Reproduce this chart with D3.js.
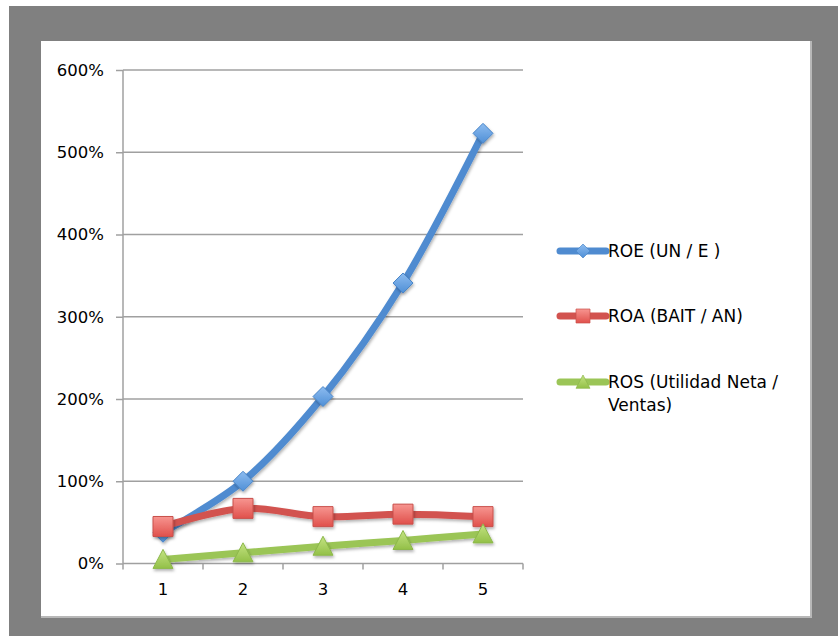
<!DOCTYPE html>
<html><head><meta charset="utf-8">
<script src="https://cdn.jsdelivr.net/npm/d3@7"></script>
<style>html,body{margin:0;padding:0;background:#fff;}svg{display:block;}</style>
</head><body>
<script>
const categories = ["1","2","3","4","5"];
const roe = [0.38, 1.00, 2.03, 3.41, 5.23];
const roa = [0.45, 0.67, 0.57, 0.60, 0.57];
const ros = [0.05, 0.13, 0.21, 0.28, 0.36];
const yTicks = [0,1,2,3,4,5,6];
const seriesNames = ["ROE (UN / E )","ROA (BAIT / AN)","ROS (Utilidad Neta /|Ventas)"];

const W=838,H=636;
const svg=d3.select("body").append("svg").attr("width",W).attr("height",H);
const defs=svg.append("defs");
const f=defs.append("filter").attr("id","sh").attr("x","-30%").attr("y","-30%").attr("width","160%").attr("height","160%");
f.append("feDropShadow").attr("dx",1).attr("dy",2).attr("stdDeviation",1.5).attr("flood-color","#000").attr("flood-opacity",0.3);
function grad(id,c1,c2){const g=defs.append("linearGradient").attr("id",id).attr("x1",0).attr("y1",0).attr("x2",0).attr("y2",1);
 g.append("stop").attr("offset","0%").attr("stop-color",c1);g.append("stop").attr("offset","100%").attr("stop-color",c2);}
grad("gb","#8dbcf0","#4f8fd6");grad("gr","#f79590","#e0504b");grad("gg","#c4e383","#93c048");

svg.append("rect").attr("x",9).attr("y",6).attr("width",W-9).attr("height",H-6).attr("fill","#808080");
svg.append("rect").attr("x",41).attr("y",41).attr("width",771).attr("height",577).attr("fill","#b8b8b8");
svg.append("rect").attr("x",41).attr("y",41).attr("width",769).attr("height",575).attr("fill","#fff");

const x=d3.scaleBand().domain(categories).range([123,523]).padding(0);
const y=d3.scaleLinear().domain([0,6]).range([563.5,70]);
const font="DejaVu Sans, sans-serif";

// gridlines
svg.append("g").selectAll("line").data(yTicks.filter(d=>d>0)).join("line")
 .attr("x1",123).attr("x2",523).attr("y1",d=>y(d)).attr("y2",d=>y(d))
 .attr("stroke","#a0a0a0").attr("stroke-width",1.5);

// y axis
const ya=svg.append("g").attr("transform","translate(123,0)")
 .call(d3.axisLeft(y).tickValues(yTicks).tickFormat(d=>(d*100)+"%").tickSize(7).tickPadding(12));
ya.select(".domain").attr("stroke","#a0a0a0").attr("stroke-width",1.5).attr("d",`M0,${y(6)}V${y(0)}`);
ya.selectAll(".tick line").attr("stroke","#a0a0a0").attr("stroke-width",1.5);
ya.selectAll("text").attr("font-family",font).attr("font-size","16.5px").attr("fill","#000");

// x axis
const xa=svg.append("g").attr("transform",`translate(0,${y(0)})`)
 .call(d3.axisBottom(x).tickSize(0).tickPadding(20));
xa.select(".domain").attr("stroke","#a0a0a0").attr("stroke-width",1.5).attr("d",`M123,0H523`);
xa.selectAll("text").attr("font-family",font).attr("font-size","16.5px").attr("fill","#000");
svg.append("g").selectAll("line").data(categories.concat(["end"])).join("line")
 .attr("x1",d=>d==="end"?x.range()[1]:x(d)).attr("x2",d=>d==="end"?x.range()[1]:x(d))
 .attr("y1",y(0)).attr("y2",y(0)+6).attr("stroke","#a0a0a0").attr("stroke-width",1.5);

const cx=d=>x(d)+x.bandwidth()/2;
const series=[
 {vals:roe,color:"#4f8bd0",fill:"url(#gb)",stroke:"#4a86c8",shape:"diamond"},
 {vals:roa,color:"#d2534f",fill:"url(#gr)",stroke:"#c9504b",shape:"square"},
 {vals:ros,color:"#9bc557",fill:"url(#gg)",stroke:"#8cb84a",shape:"triangle"}
];
function shapePath(s){
 if(s==="diamond") return "M0,-10L10,0L0,10L-10,0Z";
 if(s==="square") return "M-10,-10H10V10H-10Z";
 return "M0,-10L10,9H-10Z";
}
const line=d3.line().x((d,i)=>cx(categories[i])).y(d=>y(d)).curve(d3.curveCatmullRom.alpha(0.5));
series.forEach(s=>{
 const g=svg.append("g");
 g.append("path").datum(s.vals).attr("d",line).attr("fill","none").attr("stroke",s.color)
  .attr("stroke-width",7).attr("stroke-linejoin","round").attr("filter","url(#sh)");
 g.selectAll("path.m").data(s.vals).join("path").attr("class","m")
  .attr("transform",(d,i)=>`translate(${cx(categories[i])},${y(d)})`)
  .attr("d",shapePath(s.shape)).attr("fill",s.fill).attr("stroke",s.stroke).attr("stroke-width",1)
  .attr("stroke-linejoin","round").attr("filter","url(#sh)");
});

// legend
const legY=[251,316,382];
series.forEach((s,i)=>{
 const g=svg.append("g").attr("transform",`translate(0,${legY[i]})`);
 g.append("line").attr("x1",560).attr("x2",606).attr("stroke",s.color).attr("stroke-width",7).attr("stroke-linecap","round");
 g.append("path").attr("transform",`translate(583,0) scale(0.7)`).attr("d",shapePath(s.shape))
  .attr("fill",s.fill).attr("stroke",s.stroke).attr("stroke-width",1);
 const t=g.append("text").attr("x",608).attr("y",6).attr("font-family",font).attr("font-size","17px").attr("fill","#000");
 seriesNames[i].split("|").forEach((ln,j)=>t.append("tspan").attr("x",608).attr("dy",j?23:0).text(ln));
});
</script>
</body></html>
